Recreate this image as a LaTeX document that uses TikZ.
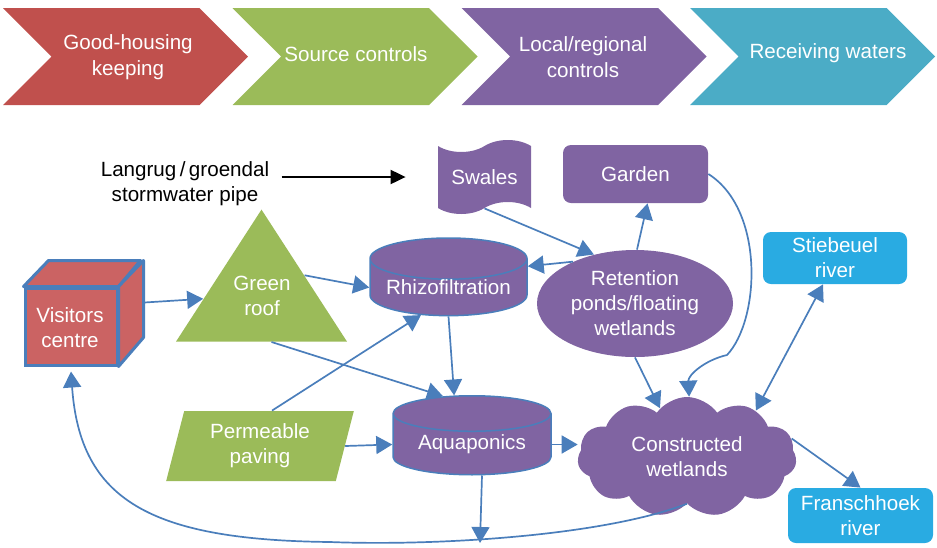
\documentclass[tikz,border=0pt]{standalone}
\usepackage{fontspec}
\setmainfont{Liberation Sans}
\usetikzlibrary{arrows.meta,positioning,calc,shapes.geometric,shapes.symbols}
\definecolor{hk}{RGB}{192,80,77}
\definecolor{src}{RGB}{155,187,89}
\definecolor{loc}{RGB}{128,100,162}
\definecolor{rcv}{RGB}{75,172,198}
\definecolor{link}{RGB}{74,126,187}
\definecolor{cube}{RGB}{203,99,99}
\definecolor{river}{RGB}{41,171,226}
\newcommand{\diagfont}{\fontsize{10.3}{12.5}\selectfont}
\tikzset{
  chev/.style={signal,signal from=west,signal to=east,signal pointer angle=90,
    minimum width=122.5pt,minimum height=48.5pt,inner sep=0pt},
  chevtxt/.style={text=white,align=center,inner sep=0pt,
    font=\fontsize{10.3}{13}\selectfont},
  box/.style={text=white,align=center,inner sep=0pt,font=\diagfont},
  cyl/.style={box,cylinder,shape border rotate=90,aspect=0.33,draw=link,
    line width=0.75pt,fill=loc},
  rbox/.style={box,rounded corners=4pt,fill=#1},
  tri/.style={box,isosceles triangle,isosceles triangle stretches,
    shape border rotate=90,minimum width=85.5pt,minimum height=66pt,fill=src},
  arr/.style={-{Triangle[length=8pt,width=9pt]},line width=0.85pt,link},
  dbl/.style={{Triangle[length=8pt,width=9pt]}-{Triangle[length=8pt,width=9pt]},
    line width=0.85pt,link},
  blk/.style={-{Triangle[length=7.5pt,width=7pt]},line width=1pt,black},
}

\begin{document}
\begin{tikzpicture}[x=0.5pt,y=-0.5pt]
  \useasboundingbox (0,0) rectangle (937,547);
  % chevrons
  \node[chev,fill=hk]  (c1) at (125.5,56.5) {};
  \node[chev,fill=src] (c2) at (355,56.5) {};
  \node[chev,fill=loc] (c3) at (584,56.5) {};
  \node[chev,fill=rcv] (c4) at (812.5,56.5) {};
  \node[chevtxt] (t1) at (128,57.5) {Good-housing\\keeping};
  \node[chevtxt] (t2) at (356,54) {Source controls};
  \node[chevtxt] (t3) at (583,57.5) {Local/regional\\controls};
  \node[chevtxt] (t4) at (828,53) {Receiving waters};

  % visitors centre
  \node[box,fill=cube,draw=link,line width=1.5pt,minimum width=46pt,
    minimum height=38.5pt] (visitors) at (71,326.5) {};
  \filldraw[fill=cube,draw=link,line width=1.5pt,line join=round]
    (visitors.north west) -- ++(25,-26) -- ++(92,0) -- (visitors.north east) -- cycle;
  \filldraw[fill=cube,draw=link,line width=1.5pt,line join=round]
    (visitors.north east) -- ++(25,-26) -- ++(0,77) -- (visitors.south east) -- cycle;
  \node[box] (vtxt) at (70,328) {Visitors\\centre};

  % sources
  \node[tri,anchor=lower side] (roof) at (261.5,342) {};
  \node[box] (rooftxt) at (262,296) {Green\\roof};
  \node[box,trapezium,trapezium left angle=75,trapezium right angle=105,
    trapezium stretches,minimum width=94pt,minimum height=35pt,fill=src]
    (paving) at (260,446) {Permeable\\paving};
  \node[font=\diagfont,align=center,inner sep=0pt] (pipe) at (185,184)
    {Langrug\,/\,groendal\\stormwater pipe};

  % local/regional controls
  \node[box,tape,minimum width=46.5pt,minimum height=37pt,fill=loc,
    tape bend height=6pt] (swales) at (484.5,177) {Swales};
  \node[rbox=loc,minimum width=72.5pt,minimum height=29pt] (garden)
    at (635.5,174) {Garden};
  \node[cyl,minimum width=78.5pt,minimum height=38pt] (rhizo)
    at (448.5,287.5) {Rhizofiltration};
  \node[box,ellipse,minimum width=98pt,minimum height=53.5pt,fill=loc]
    (ponds) at (635,303.5) {Retention\\ponds/floating\\wetlands};
  \node[cyl,minimum width=79pt,minimum height=39.5pt] (aqua)
    at (472,444.5) {Aquaponics};
  \node[box,cloud,cloud puffs=11,cloud puff arc=110,aspect=1.8,
    minimum width=109.5pt,minimum height=60pt,fill=loc] (wet)
    at (687,457) {Constructed\\wetlands};

  % receiving waters
  \node[rbox=river,minimum width=72pt,minimum height=26pt] (stieb)
    at (835,258) {Stiebeuel\\river};
  \node[rbox=river,minimum width=72.5pt,minimum height=27.5pt] (fransch)
    at (860.5,515.5) {Franschhoek\\river};
  \coordinate (drain) at (480,543);

  % edges
  \draw[blk] ([xshift=6pt]pipe.east |- swales.west) -- ([xshift=-16pt]swales.west);
  \draw[arr] ([xshift=13pt,yshift=12pt]visitors.east) -- (roof);
  \draw[arr] (roof.right side) -- (rhizo.west);
  \draw[arr] ([xshift=5pt]roof.lower side) -- (aqua.121);
  \draw[arr] ([xshift=6pt]paving.north) -- (rhizo.225);
  \draw[arr] (paving.east) -- (aqua.west);
  \draw[arr] (rhizo.south) -- (aqua.110);
  \draw[arr] (swales.south) -- (ponds.130);
  \draw[arr] (ponds.146) -- (rhizo.15);
  \draw[arr] ([xshift=1pt]ponds.north) -- ([xshift=6pt]garden.south);
  \draw[arr] (ponds.south) -- (wet.119);
  \draw[arr] (garden.east) .. controls (765,210) and (760,320) .. (727,355)
    .. controls (705,360) and (688,375) .. (wet.88);
  \draw[arr] (aqua.east) -- (aqua.east -| wet.west);
  \draw[arr] ([xshift=5pt]aqua.south) -- (drain);
  \draw[dbl] (wet.34) -- ([xshift=-6pt]stieb.south);
  \draw[arr] (wet.10) -- (fransch.north);
  \draw[arr] (wet.south) .. controls (600,537) and (430,546) .. (330,542)
    .. controls (150,540) and (80,500) .. ([yshift=-2.5pt]visitors.south);
\end{tikzpicture}
\end{document}
